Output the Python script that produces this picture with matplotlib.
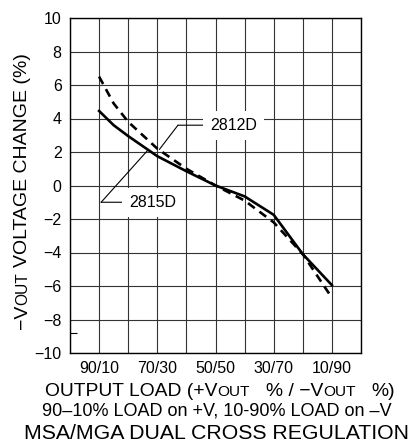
import matplotlib
matplotlib.use('Agg')
import matplotlib.pyplot as plt
from matplotlib.transforms import IdentityTransform

# Charge sur +V (%) ; la charge sur -V est le complément à 100
charge_pos = [90, 85, 80, 70, 60, 50, 40, 30, 20, 10]
variation_2815D = [4.45, 3.6, 2.95, 1.75, 0.85, 0.0, -0.65, -1.75, -4.1, -5.95]
variation_2812D = [6.5, 4.9, 3.8, 2.2, 1.0, 0.0, -0.9, -2.2, -4.1, -6.7]

positions_ticks = [90, 70, 50, 30, 10]
etiquettes_ticks = ["90/10", "70/30", "50/50", "30/70", "10/90"]

plt.rcParams['font.family'] = ['Liberation Sans', 'DejaVu Sans']


def texte_mixte(fig, morceaux, centre, base, rotation=0):
    """Place une ligne de texte faite de morceaux de tailles différentes (coordonnées en pixels)."""
    renderer = fig.canvas.get_renderer()
    textes = []
    longueurs = []
    for chaine, taille, espace in morceaux:
        t = fig.text(0, 0, chaine, fontsize=taille, transform=IdentityTransform(),
                     ha='left', va='baseline', rotation_mode='anchor')
        longueurs.append(t.get_window_extent(renderer).width + espace)
        textes.append(t)
    total = sum(longueurs)
    pos = centre - total / 2
    for t, l in zip(textes, longueurs):
        if rotation == 90:
            t.set_position((base, pos))
            t.set_rotation(90)
        else:
            t.set_position((pos, base))
        pos += l


fig = plt.figure(figsize=(4.15, 4.45), dpi=100)
ax = fig.add_axes([70 / 415, 1 - 353 / 445, 291 / 415, 335 / 445])

ax.plot(charge_pos, variation_2815D, color='black', lw=1.9, solid_joinstyle='round', zorder=3)
ax.plot(charge_pos, variation_2812D, color='black', lw=1.9, dashes=(3.2, 2.2), zorder=3)

ax.set_xlim(100, 0)
ax.set_ylim(-10, 10)
ax.set_xticks(positions_ticks)
ax.set_xticklabels(etiquettes_ticks)
ax.set_xticks(range(0, 101, 10), minor=True)
ax.set_yticks(range(-10, 11, 2))
ax.set_yticks([-8.8], minor=True)
ax.tick_params(axis='both', which='major', length=0, labelsize=11.5)
ax.tick_params(axis='x', which='major', pad=6)
ax.tick_params(axis='y', which='major', pad=6)
ax.tick_params(axis='x', which='minor', length=0)
ax.tick_params(axis='y', which='minor', direction='in', length=5, width=0.8)
ax.grid(True, axis='x', which='both', color='#333333', lw=0.8, zorder=1)
ax.grid(True, axis='y', which='major', color='#333333', lw=0.8, zorder=1)
ax.set_axisbelow(True)
for s in ax.spines.values():
    s.set_linewidth(1.0)

# Repères des courbes
ligne = dict(arrowstyle='-', lw=0.8, color='black', shrinkA=0, shrinkB=0)
ax.annotate('', xy=(69.3, 2.15), xytext=(62.9, 3.6), arrowprops=ligne, zorder=4)
ax.annotate('', xy=(62.9, 3.6), xytext=(50, 3.6), arrowprops=ligne, zorder=4)
ax.text(43.8, 3.6, '2812D', fontsize=11.5, ha='center', va='center', zorder=5,
        bbox=dict(boxstyle='square,pad=0.45', fc='white', ec='none'))
ax.annotate('', xy=(73.3, 2.1), xytext=(89.3, -1.0), arrowprops=ligne, zorder=4)
ax.annotate('', xy=(89.3, -1.0), xytext=(76, -1.0), arrowprops=ligne, zorder=4)
ax.text(71.6, -1.0, '2815D', fontsize=11.5, ha='center', va='center', zorder=5,
        bbox=dict(boxstyle='square,pad=0.45', fc='white', ec='none'))

# Titres d'axes
texte_mixte(fig, [("OUTPUT LOAD (+V", 13.9, 0), ("OUT", 11.1, 16),
                  ("% / \u2212V", 13.9, 0), ("OUT", 11.1, 16), ("%)", 13.9, 0)],
            centre=220, base=445 - 396)
fig.text(217, 445 - 416, "90\u201310% LOAD on +V, 10-90% LOAD on \u2013V", fontsize=13,
         ha='center', va='baseline', transform=IdentityTransform())
fig.text(217, 445 - 439, "MSA/MGA DUAL CROSS REGULATION", fontsize=15.3,
         ha='center', va='baseline', transform=IdentityTransform())
texte_mixte(fig, [("\u2212V", 14, 0), ("OUT", 11.2, 5), ("VOLTAGE CHANGE (%)", 14, 0)],
            centre=445 - 191, base=27, rotation=90)

plt.savefig('out.png', dpi=100)
plt.close()
